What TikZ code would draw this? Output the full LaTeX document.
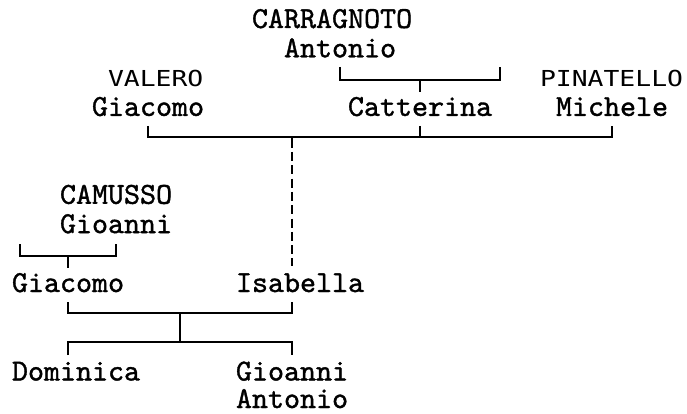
\documentclass[tikz,border=0pt]{standalone}
\usepackage{fontspec}
\newfontfamily\sansmono{DejaVu Sans Mono}[FakeStretch=1.2]
\newfontfamily\serifmono{lmmono10-regular.otf}[FakeBold=1.2]
\begin{document}
\begin{tikzpicture}[x=1pt,y=-1pt,
  person/.style={anchor=base west, inner sep=0pt, outer sep=0pt, font=\serifmono\fontsize{30.5}{30.5}\selectfont},
  sperson/.style={person, font=\sansmono\fontsize{22}{22}\selectfont},
  link/.style={line width=1.6pt},
  dashlink/.style={line width=1.6pt, dash pattern=on 9pt off 4.3pt}]
\useasboundingbox (0,0) rectangle (687,414);
% people
\node[person] (carrS) at (252,28) {CARRAGNOTO};
\node[person] (carr) at (284,57.3) {Antonio};
\node[sperson] (valS) at (108,86.6) {VALERO};
\node[sperson] (pinS) at (540,86.6) {PINATELLO};
\node[person] (val) at (92,115.9) {Giacomo};
\node[person] (cat) at (348,115.9) {Catterina};
\node[person] (pin) at (556,115.9) {Michele};
\node[person] (camS) at (60,203.8) {CAMUSSO};
\node[person] (cam) at (60,233.1) {Gioanni};
\node[person] (gia) at (12,292) {Giacomo};
\node[person] (isa) at (236,292) {Isabella};
\node[person] (dom) at (12,380.5) {Dominica};
\node[person] (gio) at (236,380.5) {Gioanni};
\node[person] (gioB) at (236,408) {Antonio};
% bracket under CARRAGNOTO Antonio
\coordinate (a1) at (340,67);
\coordinate (a2) at (500,67);
\coordinate (aj) at (420,80);
\coordinate (ac) at (420,92);
\draw[link] (a1) |- (aj) -| (a2);
\draw[link] (aj) -- (ac);
% bracket VALERO - Catterina - PINATELLO
\coordinate (b1) at (148,126);
\coordinate (b2) at (612,126);
\coordinate (bc) at (420,126);
\coordinate (bj) at (292,137);
\draw[link] (b1) |- (bj) -| (b2);
\draw[link] (bc) -- (bc |- bj);
\coordinate (ds) at (292,148);
\coordinate (dd) at (292,152);
\coordinate (de) at (292,266);
\draw[link] (bj) -- (ds);
\draw[dashlink] (dd) -- (de);
% bracket under CAMUSSO Gioanni
\coordinate (c1) at (20,244);
\coordinate (c2) at (116,244);
\coordinate (cj) at (68,256);
\coordinate (cc) at (68,268);
\draw[link] (c1) |- (cj) -| (c2);
\draw[link] (cj) -- (cc);
% Giacomo + Isabella -> children
\coordinate (e1) at (68,302);
\coordinate (e2) at (292,302);
\coordinate (ej) at (180,313);
\coordinate (fj) at (180,342);
\coordinate (f1) at (68,355);
\coordinate (f2) at (292,355);
\draw[link] (e1) |- (ej) -| (e2);
\draw[link] (ej) -- (fj);
\draw[link] (f1) |- (fj) -| (f2);
\end{tikzpicture}
\end{document}
